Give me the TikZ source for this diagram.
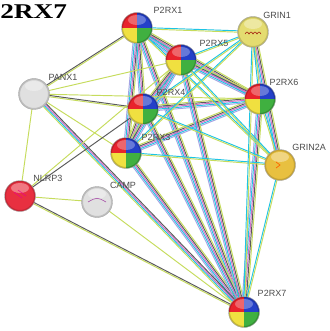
\documentclass[tikz,border=0pt]{standalone}
\usepackage{fontspec}
\setmainfont{Liberation Serif}
\setsansfont{Liberation Sans}
\usetikzlibrary{calc,backgrounds}
\definecolor{ecy}{HTML}{1EC4E4}
\definecolor{emg}{HTML}{D46CC8}
\definecolor{eyl}{HTML}{C6DC5C}
\definecolor{egr}{HTML}{5A5A5A}
\definecolor{elv}{HTML}{A4A4E4}
\definecolor{qred}{HTML}{E8242C}
\definecolor{qblue}{HTML}{2440C8}
\definecolor{qyel}{HTML}{F0E040}
\definecolor{qgrn}{HTML}{40B040}
\definecolor{gyel}{HTML}{E4DC70}
\definecolor{gorg}{HTML}{E8C040}
\definecolor{nred}{HTML}{E83040}
\definecolor{nwht}{HTML}{E0E0E0}
\newcommand\edg[4]{%
  \foreach \cc [count=\ii] in {#4}{%
    \pgfmathsetmacro\dd{(\ii-1-(#3-1)/2)*1.35}%
    \draw[\cc, line width=0.95pt] ($(#1)!\dd pt!90:(#2)$) -- ($(#2)!\dd pt!-90:(#1)$);
  }%
}
\tikzset{
  ball/.style={circle, minimum size=31pt, inner sep=0pt, draw=black!35, line width=0.4pt},
  quad/.style={ball, path picture={
    \fill[qred] (path picture bounding box.center) rectangle (path picture bounding box.north west);
    \fill[qblue] (path picture bounding box.center) rectangle (path picture bounding box.north east);
    \fill[qyel] (path picture bounding box.center) rectangle (path picture bounding box.south west);
    \fill[qgrn] (path picture bounding box.center) rectangle (path picture bounding box.south east);
    \fill[white, opacity=0.3] ($(path picture bounding box.center)+(0,8pt)$) ellipse (9pt and 5pt);
    \draw[black, opacity=0.18, line width=3pt] (path picture bounding box.center) circle (15.5pt);
  }},
  solid/.style={ball, path picture={
    \fill[#1] (path picture bounding box.south west) rectangle (path picture bounding box.north east);
    \fill[white, opacity=0.35] ($(path picture bounding box.center)+(0,8pt)$) ellipse (9pt and 5pt);
    \draw[black, opacity=0.15, line width=3pt] (path picture bounding box.center) circle (15.5pt);
  }},
  lab/.style={font=\sffamily\fontsize{9}{10}\selectfont, text=black!70, inner sep=0pt},
}
\begin{document}
\begin{tikzpicture}[x=1pt,y=-1pt]
\useasboundingbox (0,0) rectangle (329,331);
\clip (0,0) rectangle (329,331);
% nodes
\node[quad] (p1) at (137,28) {};
\node[solid=gyel] (g1) at (253,32) {};
\node[quad] (p5) at (181,60) {};
\node[quad] (p6) at (260,99) {};
\node[solid=gorg] (g2) at (280,165) {};
\node[solid=nwht] (px) at (34,94) {};
\node[quad] (p4) at (143,109) {};
\node[quad] (p3) at (126,153) {};
\node[solid=nred] (nl) at (20,196) {};
\node[solid=nwht] (cp) at (97,202) {};
\node[quad] (p7) at (244,312) {};
% inner structure hints
\draw[red!60!black, line width=0.5pt] ($(g1)+(-8,2)$) sin ($(g1)+(-6,0)$) cos ($(g1)+(-4,2)$) sin ($(g1)+(-2,0)$) cos ($(g1)+(0,2)$) sin ($(g1)+(2,0)$) cos ($(g1)+(4,2)$) sin ($(g1)+(6,0)$) cos ($(g1)+(8,2)$);
\draw[violet!70, line width=0.6pt] ($(cp)+(-9,0)$) .. controls ($(cp)+(0,-5)$) .. ($(cp)+(9,0)$);
\draw[orange!80!red, line width=0.7pt] ($(g2)+(-4,-3)$) -- ($(g2)+(0,0)$) -- ($(g2)+(-4,3)$);
\draw[magenta, line width=0.5pt] ($(nl)+(-6,-4)$) -- ($(nl)+(2,2)$) ($(nl)+(-2,-6)$) -- ($(nl)+(6,0)$);
% labels
\node[lab] (lp1) at (168,10) {P2RX1};
\node[lab] (lg1) at (277,15) {GRIN1};
\node[lab] (lp5) at (214,43) {P2RX5};
\node[lab] (lp6) at (284,82) {P2RX6};
\node[lab] (lg2) at (309,147) {GRIN2A};
\node[lab] (lpx) at (63,77) {PANX1};
\node[lab] (lp4) at (171,92) {P2RX4};
\node[lab] (lp3) at (156,137) {P2RX3};
\node[lab] (lnl) at (48,178) {NLRP3};
\node[lab] (lcp) at (123,185) {CAMP};
\node[lab] (lp7) at (272,293) {P2RX7};
% title
\node[font=\bfseries\fontsize{21}{21}\selectfont, anchor=base west, inner sep=0pt, xscale=1.3] (title) at (0,19) {2RX7};
% edges
\begin{scope}[on background layer]
\fill[white] (0,0) rectangle (329,331);
\foreach \a/\b in {p1/p3,p1/p4,p1/p5,p1/p6,p1/p7,p3/p4,p3/p5,p3/p6,p3/p7,p4/p5,p4/p6,p4/p7,p5/p6,p5/p7,p6/p7}{
  \edg{\a}{\b}{5}{elv,ecy,emg,egr,eyl}
}
\edg{g1}{g2}{5}{elv,ecy,emg,egr,eyl}
\foreach \b in {p1,p3,p4,p5,p6,p7}{
  \edg{g1}{\b}{2}{ecy,eyl}
  \edg{g2}{\b}{2}{ecy,eyl}
}
\edg{px}{p1}{2}{eyl,egr}
\edg{px}{p4}{2}{eyl,egr}
\edg{px}{p5}{1}{eyl}
\edg{px}{p6}{1}{eyl}
\edg{px}{p3}{1}{eyl}
\edg{px}{p7}{4}{eyl,ecy,emg,egr}
\edg{px}{nl}{1}{eyl}
\edg{nl}{p4}{1}{egr}
\edg{nl}{p5}{1}{eyl}
\edg{nl}{cp}{1}{eyl}
\edg{nl}{p7}{2}{eyl,egr}
\edg{cp}{p7}{1}{eyl}
\end{scope}
\end{tikzpicture}
\end{document}
